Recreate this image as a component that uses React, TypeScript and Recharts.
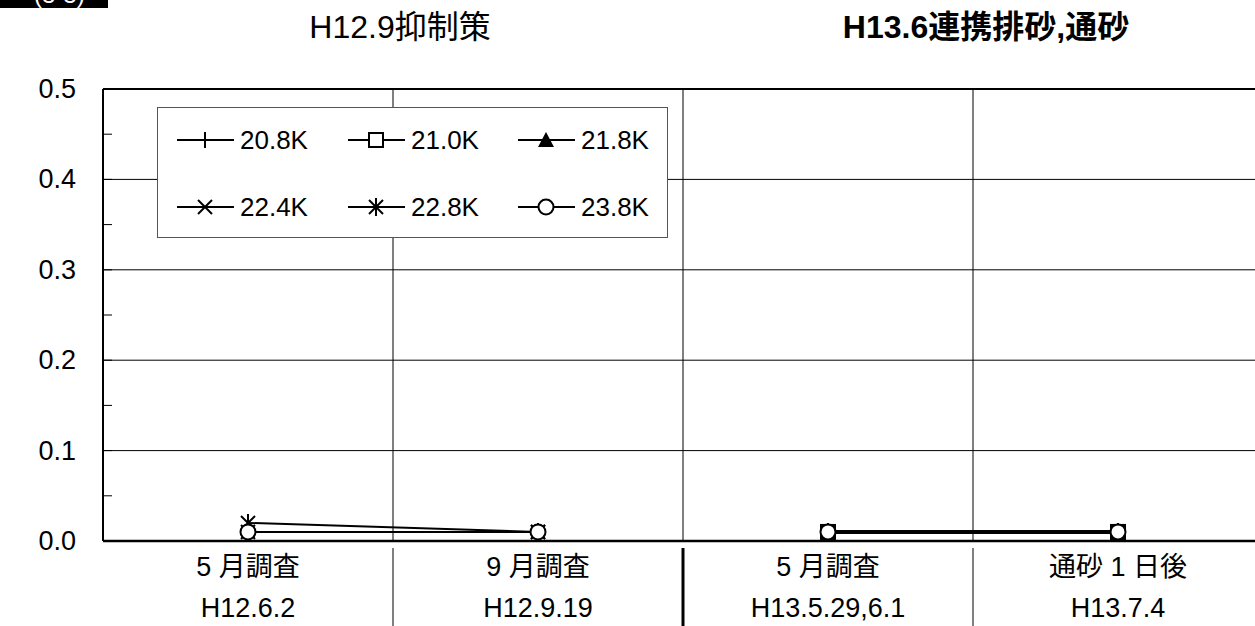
import React from 'react';
import { LineChart, Line, XAxis, YAxis, CartesianGrid, ReferenceLine, Legend } from 'recharts';

// categories along the bottom, two lines per label
const categories = ['5 月調査', '9 月調査', '5 月調査', '通砂 1 日後'];
const surveyDates = ['H12.6.2', 'H12.9.19', 'H13.5.29,6.1', 'H13.7.4'];
// which period (H12 / H13) each category belongs to – lines break between periods
const periodOf = [0, 0, 1, 1];
const periodTitles = ['H12.9抑制策', 'H13.6連携排砂,通砂'];

const seriesNames = ['20.8K', '21.0K', '21.8K', '22.4K', '22.8K', '23.8K'];
const seriesShapes = ['plus', 'square', 'triangle', 'cross', 'star', 'circle'];

const v208 = [null, null, 0.01, 0.01];
const v210 = [null, null, 0.01, 0.01];
const v218 = [null, null, 0.01, 0.01];
const v224 = [0.01, 0.01, 0.01, 0.01];
const v228 = [0.02, 0.01, 0.01, 0.01];
const v238 = [0.01, 0.01, 0.01, 0.01];
const seriesValues = [v208, v210, v218, v224, v228, v238];

const yTicks = [0, 0.05, 0.1, 0.15, 0.2, 0.25, 0.3, 0.35, 0.4, 0.45, 0.5];
const yGrid = [0.1, 0.2, 0.3, 0.4];

const FONT = "'Liberation Sans', Arial, 'Noto Sans CJK JP', sans-serif";
const PLOT_LEFT = 103;
const COL_W = 290;

const data = categories.map((c, i) => {
  const row: Record<string, any> = { key: String(i) };
  seriesValues.forEach((vals, k) => {
    row[`s${k}_p${periodOf[i]}`] = vals[i];
  });
  return row;
});

const Marker = ({ shape, cx, cy }: { shape: string; cx: number; cy: number }) => {
  const s = 8;
  switch (shape) {
    case 'plus':
      return (
        <g stroke="#000" strokeWidth={2}>
          <line x1={cx - s} y1={cy} x2={cx + s} y2={cy} />
          <line x1={cx} y1={cy - s} x2={cx} y2={cy + s} />
        </g>
      );
    case 'square':
      return <rect x={cx - 7} y={cy - 7} width={14} height={14} fill="#fff" stroke="#000" strokeWidth={2} />;
    case 'triangle':
      return <polygon points={`${cx},${cy - 8} ${cx + 8},${cy + 7} ${cx - 8},${cy + 7}`} fill="#000" />;
    case 'cross':
      return (
        <g stroke="#000" strokeWidth={2}>
          <line x1={cx - 7} y1={cy - 7} x2={cx + 7} y2={cy + 7} />
          <line x1={cx - 7} y1={cy + 7} x2={cx + 7} y2={cy - 7} />
        </g>
      );
    case 'star':
      return (
        <g stroke="#000" strokeWidth={2}>
          <line x1={cx - 7} y1={cy - 7} x2={cx + 7} y2={cy + 7} />
          <line x1={cx - 7} y1={cy + 7} x2={cx + 7} y2={cy - 7} />
          <line x1={cx} y1={cy - 9} x2={cx} y2={cy + 9} />
        </g>
      );
    default:
      return <circle cx={cx} cy={cy} r={7.5} fill="#fff" stroke="#000" strokeWidth={2} />;
  }
};

const YTick = (props: any) => {
  const { y, payload } = props;
  const v = payload.value;
  const major = Math.round(v * 100) % 10 === 0;
  return (
    <g>
      <line x1={PLOT_LEFT} y1={y} x2={PLOT_LEFT + 9} y2={y} stroke="#000" strokeWidth={1} />
      {major && (
        <text x={76} y={y} textAnchor="end" dominantBaseline="central" fontSize={27} fontFamily={FONT} fill="#000">
          {v.toFixed(1)}
        </text>
      )}
    </g>
  );
};

const XTick = (props: any) => {
  const { x, payload } = props;
  const i = Number(payload.value);
  return (
    <g>
      <text x={x} y={567} textAnchor="middle" dominantBaseline="central" fontSize={27} fontFamily={FONT} fill="#000">
        {categories[i]}
      </text>
      <text x={x} y={608} textAnchor="middle" dominantBaseline="central" fontSize={27} fontFamily={FONT} fill="#000">
        {surveyDates[i]}
      </text>
      {i < categories.length - 1 && (
        <line
          x1={x + COL_W / 2}
          y1={548}
          x2={x + COL_W / 2}
          y2={626}
          stroke="#000"
          strokeWidth={periodOf[i] !== periodOf[i + 1] ? 3 : 1}
        />
      )}
    </g>
  );
};

const LegendBox = () => {
  const cols = [177, 348, 518];
  return (
    <div
      style={{
        position: 'absolute',
        left: 157,
        top: 107,
        width: 511,
        height: 131,
        border: '1px solid #555',
        background: '#fff',
        boxSizing: 'border-box',
      }}
    >
      <svg width={511} height={131} style={{ position: 'absolute', left: -1, top: -1 }}>
        {seriesNames.map((name, k) => {
          const lx = cols[k % 3] - 157;
          const ly = k < 3 ? 33 : 100;
          return (
            <g key={name}>
              <line x1={lx} y1={ly} x2={lx + 57} y2={ly} stroke="#000" strokeWidth={2} />
              <Marker shape={seriesShapes[k]} cx={lx + 28} cy={ly} />
              <text x={lx + 63} y={ly} dominantBaseline="central" fontSize={26} fontFamily={FONT} fill="#000">
                {name}
              </text>
            </g>
          );
        })}
      </svg>
    </div>
  );
};

const App = () => {
  return (
    <div
      style={{
        position: 'fixed',
        left: 0,
        top: 0,
        width: 1255,
        height: 626,
        overflow: 'hidden',
        background: '#fff',
        fontFamily: FONT,
      }}
    >
      <div
        style={{
          position: 'absolute',
          left: 0,
          top: -18,
          width: 108,
          height: 26,
          background: '#000',
          color: '#fff',
          fontSize: 24,
          lineHeight: '26px',
          paddingLeft: 34,
          boxSizing: 'border-box',
        }}
      >
        (3-3)
      </div>
      <div
        style={{
          position: 'absolute',
          left: 250,
          top: 9,
          width: 300,
          textAlign: 'center',
          fontSize: 32,
          lineHeight: '36px',
          color: '#000',
        }}
      >
        {periodTitles[0]}
      </div>
      <div
        style={{
          position: 'absolute',
          left: 786,
          top: 9,
          width: 400,
          textAlign: 'center',
          fontSize: 32,
          fontWeight: 'bold',
          lineHeight: '36px',
          color: '#000',
        }}
      >
        {periodTitles[1]}
      </div>
      <div style={{ position: 'absolute', left: 0, top: 0 }}>
        <LineChart width={1275} height={626} data={data} margin={{ top: 89, right: 12, bottom: 0, left: 0 }}>
          <CartesianGrid
            horizontal={false}
            stroke="#000"
            strokeWidth={1}
            verticalCoordinatesGenerator={({ offset }: any) =>
              [1, 2, 3].map((k) => offset.left + (offset.width * k) / 4)
            }
          />
          {yGrid.map((g) => (
            <ReferenceLine key={g} y={g} stroke="#000" strokeWidth={1} />
          ))}
          <ReferenceLine y={0.5} stroke="#000" strokeWidth={2} />
          <XAxis
            dataKey="key"
            scale="band"
            height={85}
            tickLine={false}
            axisLine={{ stroke: '#000', strokeWidth: 2.5 }}
            tick={<XTick />}
            interval={0}
          />
          <YAxis
            width={103}
            domain={[0, 0.5]}
            ticks={yTicks}
            interval={0}
            tickLine={false}
            axisLine={{ stroke: '#000', strokeWidth: 2 }}
            tick={<YTick />}
          />
          <Legend content={() => <LegendBox />} wrapperStyle={{ position: 'absolute', left: 0, top: 0, width: 0, height: 0 }} />
          {[0, 1].map((p) =>
            seriesNames.map((name, k) => (
              <Line
                key={`${k}_${p}`}
                dataKey={`s${k}_p${p}`}
                name={name}
                stroke="#000"
                strokeWidth={p === 0 ? 2 : 3}
                connectNulls={false}
                isAnimationActive={false}
                legendType="none"
                dot={(dp: any) =>
                  dp.cx == null || dp.cy == null || dp.value == null ? (
                    <g key={`d${k}_${p}_${dp.index}`} />
                  ) : (
                    <Marker key={`d${k}_${p}_${dp.index}`} shape={seriesShapes[k]} cx={dp.cx} cy={dp.cy} />
                  )
                }
                activeDot={false}
              />
            ))
          )}
        </LineChart>
      </div>
    </div>
  );
};

export default App;
